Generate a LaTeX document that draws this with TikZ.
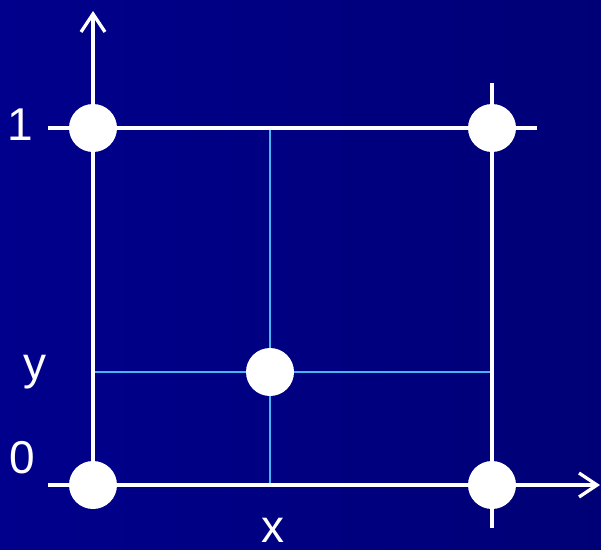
\documentclass[tikz,border=0pt]{standalone}
\usepackage{fontspec}
\setmainfont{Liberation Sans}
\usetikzlibrary{arrows.meta}
\definecolor{bgleft}{RGB}{0,0,140}
\definecolor{bgright}{RGB}{0,0,118}
\definecolor{guide}{RGB}{70,180,240}
\tikzset{
	axisline/.style={white, line width=3.3pt},
	guideline/.style={guide, line width=2pt},
	dot/.style={circle, fill=white, minimum size=48pt, inner sep=0pt},
	lbl/.style={white, font=\fontsize{46}{46}\selectfont, inner sep=0pt},
	barb/.style={-{Straight Barb[length=18pt, width=24pt, line width=3.3pt]}}
}
\begin{document}
\begin{tikzpicture}[x=1pt, y=-1pt]
		\shade[left color=bgleft, right color=bgright] (0,0) rectangle (601,549);
		\useasboundingbox (0,0) rectangle (601,549);
		% corners and middle point
		\coordinate (p00) at (93,485);
		\coordinate (p01) at (93,128);
		\coordinate (p10) at (492,485);
		\coordinate (p11) at (492,128);
		\coordinate (pxy) at (270,372);
		% axis and edge ends
		\coordinate (xstart) at (48,485);
		\coordinate (xend) at (600,485);
		\coordinate (yend) at (93,11);
		\coordinate (topstart) at (48,128);
		\coordinate (topend) at (537,128);
		\coordinate (rtop) at (492,83);
		\coordinate (rbot) at (492,528);
		\coordinate (gtop) at (270,128);
		\coordinate (gbot) at (270,485);
		\coordinate (gleft) at (93,372);
		\coordinate (gright) at (492,372);
		% guide lines
		\draw[guideline] (gtop) -- (gbot);
		\draw[guideline] (gleft) -- (gright);
		% square and axes
		\draw[axisline, barb] (xstart) -- (xend);
		\draw[axisline, barb] (p00) -- (yend);
		\draw[axisline] (topstart) -- (topend);
		\draw[axisline] (rtop) -- (rbot);
		% dots
		\node[dot] (d00) at (p00) {};
		\node[dot] (d01) at (p01) {};
		\node[dot] (d10) at (p10) {};
		\node[dot] (d11) at (p11) {};
		\node[dot] (dxy) at (pxy) {};
		% labels
		\node[lbl] (one) at (20,125) {1};
		\node[lbl] (zero) at (22,458) {0};
		\node[lbl] (ylbl) at (35,372) {y};
		\node[lbl] (xlbl) at (273,530) {x};
		\end{tikzpicture}
\end{document}
